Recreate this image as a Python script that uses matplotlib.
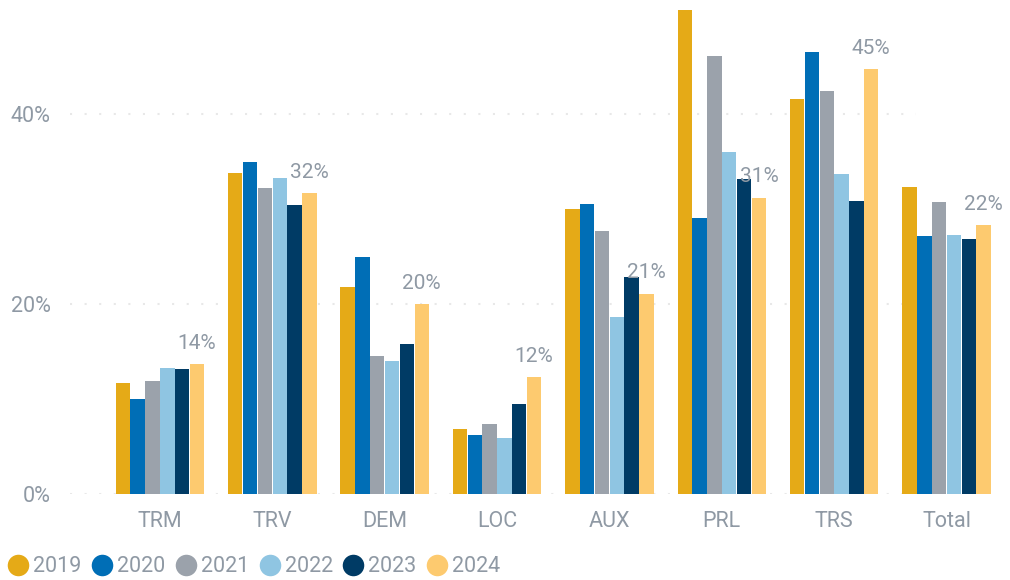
import matplotlib
matplotlib.use("Agg")
import matplotlib.pyplot as plt
from matplotlib.lines import Line2D
import numpy as np

categories = ["TRM", "TRV", "DEM", "LOC", "AUX", "PRL", "TRS", "Total"]
years = ["2019", "2020", "2021", "2022", "2023", "2024"]
v2019 = [11.7, 33.8, 21.8, 6.8, 30.0, 50.9, 41.6, 32.3]
v2020 = [10.0, 35.0, 24.9, 6.2, 30.5, 29.1, 46.5, 27.2]
v2021 = [11.9, 32.2, 14.5, 7.4, 27.7, 46.1, 42.4, 30.7]
v2022 = [13.3, 33.3, 14.0, 5.9, 18.6, 36.0, 33.7, 27.3]
v2023 = [13.2, 30.4, 15.8, 9.5, 22.8, 33.2, 30.8, 26.8]
v2024 = [13.7, 31.7, 20.0, 12.3, 21.1, 31.2, 44.7, 28.3]
labels_2024 = ["14%", "32%", "20%", "12%", "21%", "31%", "45%", "22%"]
yticks = [0, 20, 40]
ytick_labels = ["0%", "20%", "40%"]

series = [v2019, v2020, v2021, v2022, v2023, v2024]
colors = ["#E5AA17", "#006EB6", "#9BA2AB", "#8FC5E2", "#003B65", "#FDCA6F"]
text_color = "#8F99A4"
plt.rcParams['font.family'] = ['Roboto', 'DejaVu Sans']

fig = plt.figure(figsize=(10.1, 5.8), dpi=100)
ax = fig.add_axes([70/1010, 86/580, 935/1010, 494/580])
x = np.arange(len(categories))
bw = 0.132
for i, (vals, c) in enumerate(zip(series, colors)):
    offs = (i - 2.5) * bw
    ax.bar(x + offs, vals, width=bw * 0.97, color=c, edgecolor='none', zorder=3, label=years[i])

for xi, v, lab in zip(x, v2024, labels_2024):
    ax.annotate(lab, (xi + 2.5 * bw, v), xytext=(0, 15), textcoords='offset points',
                ha='center', va='center', fontsize=15, color=text_color)

ax.set_xlim(-0.80, 7.52)
ax.set_ylim(0, 52)
for yv in yticks:
    ax.axhline(yv, xmin=0, xmax=0.905, color="#E8E8E8", linestyle=(0, (1, 6)),
               linewidth=1.5, zorder=1)
ax.set_yticks(yticks)
ax.set_yticklabels(ytick_labels)
ax.set_xticks(x)
ax.set_xticklabels(categories)
ax.tick_params(axis='y', length=0, pad=14, labelsize=15.5, labelcolor=text_color)
ax.tick_params(axis='x', length=0, pad=12, labelsize=15.5, labelcolor=text_color)
for s in ax.spines.values():
    s.set_visible(False)

handles = [Line2D([0], [0], marker='o', linestyle='none', markersize=15.5,
                  markerfacecolor=c, markeredgecolor='none') for c in colors]
fig.legend(handles, years, loc='center left', bbox_to_anchor=(0.0075, 1 - 567/580),
           ncol=6, frameon=False, handletextpad=0.2, columnspacing=0.45,
           handlelength=1.0, fontsize=15.5, labelcolor=text_color, borderaxespad=0,
           borderpad=0)

fig.savefig("out.png", dpi=100)
